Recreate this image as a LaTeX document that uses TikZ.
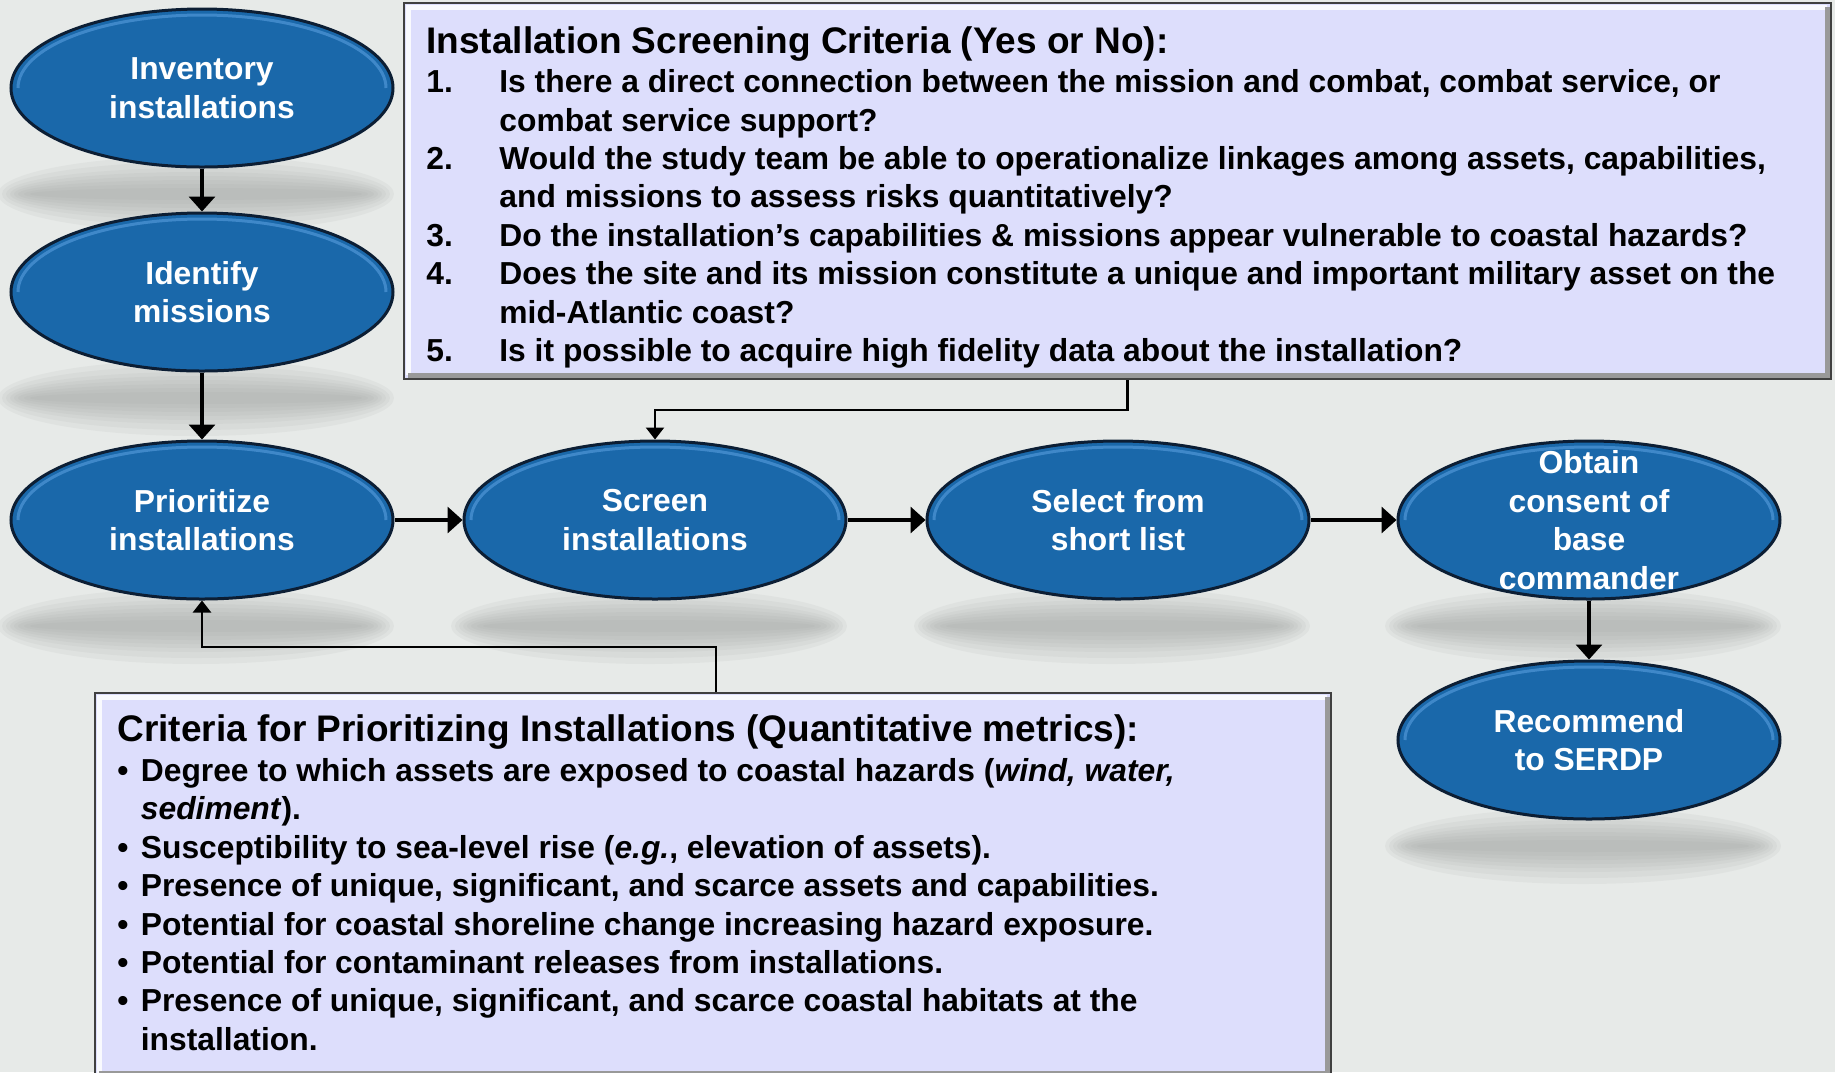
\documentclass[tikz,border=0pt]{standalone}
\usepackage{fontspec}
\setmainfont{Liberation Sans}
\usetikzlibrary{arrows.meta,shapes.geometric,backgrounds,matrix}

\definecolor{procblue}{RGB}{26,104,170}
\definecolor{procrim}{RGB}{80,150,215}
\definecolor{procline}{RGB}{12,30,52}
\definecolor{critfill}{RGB}{221,222,252}
\definecolor{pagegrey}{RGB}{231,234,232}
\definecolor{shadowgrey}{RGB}{150,153,153}

\newcommand\procfont{\fontsize{15.9pt}{19.3pt}\selectfont\bfseries}
\newcommand\listfont{\fontsize{15.9pt}{19.2pt}\selectfont\bfseries}
\newcommand\headfont{\fontsize{18.5pt}{22pt}\selectfont\bfseries}

\begin{document}
\begin{tikzpicture}[x=0.5pt,y=-0.5pt,
  proc/.style={ellipse,draw=procline,line width=1.5pt,fill=procblue,minimum width=191pt,minimum height=79pt,inner sep=0pt,
    path picture={\draw[procrim,line width=1.5pt,opacity=.7] ([xshift=-92pt]path picture bounding box.center) arc [start angle=180,end angle=0,x radius=92pt,y radius=36.5pt];},
    label={[proctext]center:#1}},
  proctext/.style={text=white,font=\procfont,align=center,inner sep=0pt},
  critframe/.style={rectangle,draw=black!75,line width=1pt,fill=critfill,inner sep=0pt,anchor=north west},
  listtext/.style={anchor=base west,inner sep=0pt,font=\listfont},
  bevellight/.style={draw=white,line width=2.5pt,opacity=.85},
  beveldark/.style={draw=black!40,line width=2.5pt},
  link/.style={line width=1.7pt,->,>={Triangle[width=13pt,length=7.5pt]}},
  feed/.style={line width=1.2pt,->,>={Triangle[width=9pt,length=6pt]}}]
\useasboundingbox (0,0) rectangle (1835,1072);

\matrix (flow) [row sep=21.5pt,column sep=34pt,matrix anchor=prior.center] at (202,520)
{
\node (inv)[proc={Inventory\\installations}]{};  \pgfmatrixnextcell \pgfmatrixnextcell[5pt] \pgfmatrixnextcell[9pt] \\
\node (ident)[proc={Identify\\missions}]{};  \pgfmatrixnextcell \pgfmatrixnextcell[5pt] \pgfmatrixnextcell[9pt] \\[12pt]
\node (prior)[proc={Prioritize\\installations}]{};  \pgfmatrixnextcell \node (screen)[proc={Screen\\installations}]{};  \pgfmatrixnextcell[5pt] \node (select)[proc={Select from\\short list}]{};  \pgfmatrixnextcell[9pt] \node (obtain)[proc={Obtain\\consent of\\base\\commander}]{};\\[8pt]
 \pgfmatrixnextcell \pgfmatrixnextcell[5pt] \pgfmatrixnextcell[9pt] \node (recom)[proc={Recommend\\to SERDP}]{};\\
};

% page and soft shadows under the ellipses
\begin{scope}[on background layer]
\fill[pagegrey] (0,0) rectangle (1835,1072);
\foreach \n in {inv,ident,prior,screen,select,obtain,recom}
  \foreach \rx/\ry in {99/19,97/16,95/13,93/11,91/9,89/7,86/5,83/3}
    \fill[shadowgrey,opacity=.09] ([shift={(-3pt,-53pt)}]\n.center) ellipse [x radius=\rx pt,y radius=\ry pt];
\end{scope}

% criteria boxes
\node (critbox)[critframe,minimum width=713.5pt,minimum height=188pt] at (403,2) {};
\node (prbox)[critframe,minimum width=618pt,minimum height=192pt] at (94,692) {};
\draw [bevellight] ([shift={(2.5pt,2.5pt)}]critbox.south west) |- ([shift={(-2.5pt,-2.5pt)}]critbox.north east);
\draw [beveldark] ([shift={(-2.5pt,-2.5pt)}]critbox.north east) |- ([shift={(2.5pt,2.5pt)}]critbox.south west);
\draw [bevellight] ([shift={(2.5pt,2.5pt)}]prbox.south west) |- ([shift={(-2.5pt,-2.5pt)}]prbox.north east);
\draw [beveldark] ([shift={(-2.5pt,-2.5pt)}]prbox.north east) |- ([shift={(2.5pt,2.5pt)}]prbox.south west);

\node (screenlist)[listtext] at (426,53) {\begin{tabular}[t]{@{}p{36.5pt}@{}l@{}}
\multicolumn{2}{@{}l@{}}{\headfont Installation Screening Criteria (Yes or No):}\\[0.6pt]
1. & Is there a direct connection between the mission and combat, combat service, or\\
   & combat service support?\\
2. & Would the study team be able to operationalize linkages among assets, capabilities,\\
   & and missions to assess risks quantitatively?\\
3. & Do the installation’s capabilities \& missions appear vulnerable to coastal hazards?\\
4. & Does the site and its mission constitute a unique and important military asset on the\\
   & mid-Atlantic coast?\\
5. & Is it possible to acquire high fidelity data about the installation?
\end{tabular}};

\node (priorlist)[listtext] at (117,741) {\begin{tabular}[t]{@{}p{11.75pt}@{}l@{}}
\multicolumn{2}{@{}l@{}}{\headfont Criteria for Prioritizing Installations (Quantitative metrics):}\\[1pt]
\textbullet & Degree to which assets are exposed to coastal hazards (\textit{wind, water,}\\
            & \textit{sediment}).\\
\textbullet & Susceptibility to sea-level rise (\textit{e.g.}, elevation of assets).\\
\textbullet & Presence of unique, significant, and scarce assets and capabilities.\\
\textbullet & Potential for coastal shoreline change increasing hazard exposure.\\
\textbullet & Potential for contaminant releases from installations.\\
\textbullet & Presence of unique, significant, and scarce coastal habitats at the\\
            & installation.
\end{tabular}};

\draw [link] (inv) to (ident);
\draw [link] (ident) to (prior);
\draw [link] (prior) to (screen);
\draw [link] (screen) to (select);
\draw [link] (select) to (obtain);
\draw [link] (obtain) to (recom);
\draw [feed] ([xshift=5pt]critbox.south) -- ++(0,30) -| (screen.north);
\draw [feed] ([xshift=1.5pt]prbox.north) -- ++(0,-45) -| (prior.south);
\end{tikzpicture}
\end{document}
